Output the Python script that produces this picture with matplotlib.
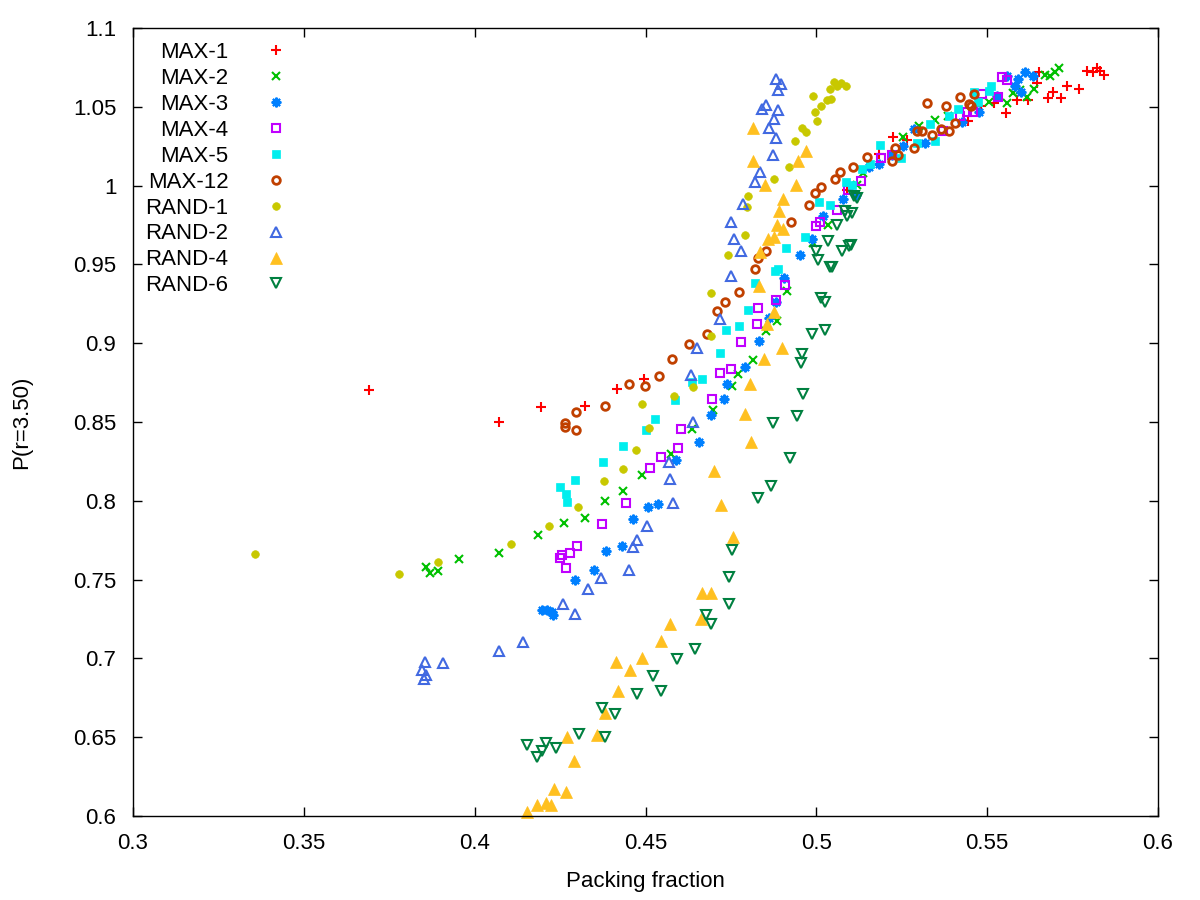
import matplotlib
matplotlib.use('Agg')
import matplotlib.pyplot as plt

plt.rcParams['font.family'] = ['Liberation Sans', 'DejaVu Sans']

# MAX-1
max1_x = [0.3691, 0.4071, 0.4194, 0.4323, 0.4417, 0.4496, 0.5090, 0.5184, 0.5225, 0.5265,
          0.5444, 0.5482, 0.5520, 0.5555, 0.5587, 0.5620, 0.5646, 0.5652, 0.5678, 0.5693,
          0.5716, 0.5734, 0.5769, 0.5792, 0.5810, 0.5822, 0.5830, 0.5842]
max1_y = [0.8701, 0.8498, 0.8593, 0.8599, 0.8707, 0.8771, 0.9975, 1.0203, 1.0311, 1.0292,
          1.0413, 1.0508, 1.0527, 1.0463, 1.0540, 1.0540, 1.0654, 1.0723, 1.0558, 1.0597,
          1.0558, 1.0635, 1.0616, 1.0730, 1.0723, 1.0749, 1.0730, 1.0704]

# MAX-2
max2_x = [0.3858, 0.3869, 0.3893, 0.3954, 0.4071, 0.4185, 0.4262, 0.4323, 0.4382, 0.4434,
          0.4490, 0.4575, 0.4636, 0.4698, 0.4753, 0.4771, 0.4815, 0.4853, 0.4885, 0.4914,
          0.4990, 0.5034, 0.5119, 0.5137, 0.5254, 0.5301, 0.5347, 0.5385, 0.5505, 0.5558,
          0.5576, 0.5596, 0.5617, 0.5637, 0.5669, 0.5684, 0.5699, 0.5710]
max2_y = [0.7579, 0.7541, 0.7553, 0.7629, 0.7667, 0.7781, 0.7858, 0.7889, 0.7997, 0.8061,
          0.8162, 0.8295, 0.8454, 0.8574, 0.8726, 0.8802, 0.8891, 0.9075, 0.9138, 0.9329,
          0.9633, 0.9747, 1.0001, 1.0083, 1.0311, 1.0381, 1.0419, 1.0444, 1.0533, 1.0527,
          1.0590, 1.0609, 1.0565, 1.0616, 1.0704, 1.0698, 1.0723, 1.0749]

# MAX-3
max3_x = [0.4197, 0.4212, 0.4226, 0.4229, 0.4294, 0.4349, 0.4384, 0.4431, 0.4463, 0.4507,
          0.4537, 0.4589, 0.4657, 0.4692, 0.4730, 0.4739, 0.4791, 0.4832, 0.4862, 0.4882,
          0.4905, 0.4952, 0.4987, 0.5020, 0.5078, 0.5116, 0.5154, 0.5184, 0.5222, 0.5254,
          0.5286, 0.5318, 0.5426, 0.5476, 0.5529, 0.5558, 0.5582, 0.5590, 0.5599, 0.5611,
          0.5634]
max3_y = [0.7306, 0.7306, 0.7293, 0.7274, 0.7496, 0.7560, 0.7680, 0.7712, 0.7883, 0.7959,
          0.7978, 0.8257, 0.8371, 0.8542, 0.8644, 0.8739, 0.8847, 0.9012, 0.9157, 0.9259,
          0.9411, 0.9557, 0.9658, 0.9810, 0.9912, 0.9943, 1.0115, 1.0134, 1.0191, 1.0254,
          1.0362, 1.0273, 1.0406, 1.0470, 1.0571, 1.0698, 1.0635, 1.0679, 1.0597, 1.0723,
          1.0698]

# MAX-4
max4_x = [0.4250, 0.4256, 0.4267, 0.4279, 0.4300, 0.4373, 0.4443, 0.4513, 0.4545, 0.4595,
          0.4604, 0.4695, 0.4718, 0.4750, 0.4780, 0.4826, 0.4829, 0.4882, 0.4908, 0.4999,
          0.5011, 0.5061, 0.5093, 0.5131, 0.5189, 0.5222, 0.5371, 0.5421, 0.5441, 0.5459,
          0.5485, 0.5532, 0.5544, 0.5558]
max4_y = [0.7636, 0.7655, 0.7572, 0.7667, 0.7712, 0.7851, 0.7984, 0.8206, 0.8276, 0.8333,
          0.8454, 0.8644, 0.8809, 0.8834, 0.9005, 0.9119, 0.9221, 0.9271, 0.9367, 0.9741,
          0.9772, 0.9848, 0.9975, 1.0032, 1.0178, 1.0191, 1.0349, 1.0444, 1.0470, 1.0470,
          1.0584, 1.0565, 1.0692, 1.0673]

# MAX-5
max5_x = [0.4250, 0.4267, 0.4270, 0.4294, 0.4376, 0.4434, 0.4502, 0.4528, 0.4586, 0.4636,
          0.4665, 0.4718, 0.4736, 0.4774, 0.4800, 0.4821, 0.4879, 0.4888, 0.4911, 0.4967,
          0.5008, 0.5040, 0.5087, 0.5104, 0.5134, 0.5157, 0.5186, 0.5248, 0.5295, 0.5333,
          0.5347, 0.5388, 0.5415, 0.5462, 0.5473, 0.5505, 0.5511]
max5_y = [0.8086, 0.8041, 0.7991, 0.8130, 0.8244, 0.8346, 0.8447, 0.8517, 0.8637, 0.8752,
          0.8771, 0.8935, 0.9081, 0.9107, 0.9208, 0.9379, 0.9455, 0.9468, 0.9607, 0.9671,
          0.9893, 0.9880, 1.0020, 1.0001, 1.0108, 1.0140, 1.0260, 1.0178, 1.0273, 1.0394,
          1.0280, 1.0444, 1.0489, 1.0597, 1.0533, 1.0603, 1.0635]

# MAX-12
max12_x = [0.4264, 0.4264, 0.4297, 0.4297, 0.4382, 0.4452, 0.4499, 0.4540, 0.4578, 0.4627,
           0.4680, 0.4709, 0.4733, 0.4774, 0.4821, 0.4829, 0.4853, 0.4926, 0.4979, 0.4996,
           0.5014, 0.5055, 0.5069, 0.5107, 0.5148, 0.5222, 0.5230, 0.5239, 0.5286, 0.5295,
           0.5309, 0.5324, 0.5339, 0.5365, 0.5380, 0.5388, 0.5406, 0.5421, 0.5447, 0.5453,
           0.5462]
max12_y = [0.8492, 0.8466, 0.8561, 0.8447, 0.8599, 0.8739, 0.8726, 0.8790, 0.8897, 0.8992,
           0.9056, 0.9202, 0.9259, 0.9322, 0.9468, 0.9538, 0.9588, 0.9766, 0.9880, 0.9956,
           0.9988, 1.0045, 1.0089, 1.0115, 1.0184, 1.0153, 1.0241, 1.0197, 1.0241, 1.0349,
           1.0349, 1.0527, 1.0324, 1.0362, 1.0508, 1.0349, 1.0400, 1.0565, 1.0520, 1.0508,
           1.0584]

# RAND-1
rand1_x = [0.3357, 0.3779, 0.3893, 0.4106, 0.4218, 0.4303, 0.4379, 0.4434, 0.4472, 0.4490,
           0.4510, 0.4583, 0.4639, 0.4692, 0.4692, 0.4742, 0.4791, 0.4797, 0.4800, 0.4876,
           0.4920, 0.4938, 0.4958, 0.4970, 0.4990, 0.4996, 0.5002, 0.5014, 0.5031, 0.5040,
           0.5043, 0.5052, 0.5061, 0.5072, 0.5087]
rand1_y = [0.7661, 0.7534, 0.7610, 0.7724, 0.7839, 0.7959, 0.8124, 0.8200, 0.8320, 0.8612,
           0.8460, 0.8663, 0.8720, 0.9043, 0.9316, 0.9557, 0.9684, 0.9867, 0.9931, 1.0039,
           1.0121, 1.0280, 1.0368, 1.0343, 1.0571, 1.0470, 1.0413, 1.0508, 1.0540, 1.0616,
           1.0552, 1.0660, 1.0635, 1.0654, 1.0635]

# RAND-2
rand2_x = [0.3846, 0.3852, 0.3855, 0.3858, 0.3907, 0.4071, 0.4142, 0.4259, 0.4294, 0.4332,
           0.4370, 0.4452, 0.4463, 0.4475, 0.4504, 0.4581, 0.4569, 0.4572, 0.4639, 0.4633,
           0.4651, 0.4718, 0.4750, 0.4759, 0.4750, 0.4780, 0.4785, 0.4821, 0.4835, 0.4873,
           0.4882, 0.4862, 0.4876, 0.4888, 0.4841, 0.4853, 0.4888, 0.4882, 0.4897]
rand2_y = [0.6926, 0.6869, 0.6976, 0.6894, 0.6970, 0.7046, 0.7103, 0.7344, 0.7281, 0.7439,
           0.7509, 0.7560, 0.7705, 0.7750, 0.7839, 0.7984, 0.8244, 0.8137, 0.8498, 0.8796,
           0.8967, 0.9151, 0.9424, 0.9658, 0.9766, 0.9582, 0.9886, 1.0026, 1.0089, 1.0197,
           1.0299, 1.0368, 1.0425, 1.0482, 1.0489, 1.0514, 1.0609, 1.0679, 1.0647]

# RAND-4
rand4_x = [0.4153, 0.4182, 0.4209, 0.4223, 0.4232, 0.4267, 0.4291, 0.4270, 0.4358, 0.4382,
           0.4420, 0.4455, 0.4414, 0.4490, 0.4545, 0.4572, 0.4663, 0.4665, 0.4692, 0.4756,
           0.4721, 0.4701, 0.4809, 0.4791, 0.4806, 0.4847, 0.4900, 0.4876, 0.4856, 0.4832,
           0.4835, 0.4859, 0.4876, 0.4885, 0.4902, 0.4891, 0.4902, 0.4850, 0.4941, 0.4815,
           0.4946, 0.4970, 0.4815]
rand4_y = [0.6025, 0.6070, 0.6082, 0.6070, 0.6171, 0.6152, 0.6349, 0.6501, 0.6514, 0.6653,
           0.6793, 0.6926, 0.6976, 0.7002, 0.7110, 0.7217, 0.7249, 0.7414, 0.7414, 0.7769,
           0.7972, 0.8187, 0.8371, 0.8549, 0.8739, 0.8897, 0.8967, 0.9195, 0.9119, 0.9360,
           0.9576, 0.9658, 0.9671, 0.9753, 0.9722, 0.9836, 0.9912, 1.0001, 1.0001, 1.0159,
           1.0153, 1.0222, 1.0368]

# RAND-6
rand6_x = [0.4153, 0.4182, 0.4197, 0.4209, 0.4238, 0.4305, 0.4382, 0.4373, 0.4411, 0.4475,
           0.4522, 0.4545, 0.4592, 0.4645, 0.4677, 0.4692, 0.4744, 0.4744, 0.4753, 0.4829,
           0.4867, 0.4923, 0.4873, 0.4943, 0.4961, 0.4955, 0.4958, 0.4987, 0.5025, 0.5014,
           0.5025, 0.4999, 0.5005, 0.5040, 0.5046, 0.5075, 0.5034, 0.5096, 0.5102, 0.5061,
           0.5084, 0.5090, 0.5104, 0.5110, 0.5119]
rand6_y = [0.6450, 0.6374, 0.6412, 0.6463, 0.6431, 0.6520, 0.6501, 0.6685, 0.6647, 0.6773,
           0.6888, 0.6793, 0.6995, 0.7059, 0.7274, 0.7217, 0.7344, 0.7515, 0.7686, 0.8016,
           0.8092, 0.8270, 0.8492, 0.8536, 0.8675, 0.8872, 0.8929, 0.9056, 0.9081, 0.9284,
           0.9259, 0.9582, 0.9531, 0.9481, 0.9481, 0.9582, 0.9646, 0.9614, 0.9620, 0.9747,
           0.9842, 0.9804, 0.9823, 0.9937, 0.9924]

x_ticks = [0.3, 0.35, 0.4, 0.45, 0.5, 0.55, 0.6]
x_tick_labels = ['0.3', '0.35', '0.4', '0.45', '0.5', '0.55', '0.6']
y_ticks = [0.6, 0.65, 0.7, 0.75, 0.8, 0.85, 0.9, 0.95, 1.0, 1.05, 1.1]
y_tick_labels = ['0.6', '0.65', '0.7', '0.75', '0.8', '0.85', '0.9', '0.95', '1', '1.05', '1.1']

# (label, x, y, marker, size, colour, filled)
series = [
    ('MAX-1', max1_x, max1_y, '+', 7, '#ff0000', True),
    ('MAX-2', max2_x, max2_y, 'x', 6, '#00c000', True),
    ('MAX-3', max3_x, max3_y, (8, 2, 0), 7, '#0080ff', True),
    ('MAX-4', max4_x, max4_y, 's', 5.5, '#c000ff', False),
    ('MAX-5', max5_x, max5_y, 's', 6, '#00eeee', True),
    ('MAX-12', max12_x, max12_y, 'o', 5.5, '#c04000', False),
    ('RAND-1', rand1_x, rand1_y, 'o', 5.5, '#c8c800', True),
    ('RAND-2', rand2_x, rand2_y, '^', 7, '#4169e1', False),
    ('RAND-4', rand4_x, rand4_y, '^', 8, '#ffc020', True),
    ('RAND-6', rand6_x, rand6_y, 'v', 7, '#008040', False),
]

fig = plt.figure(figsize=(12, 9), dpi=100)
ax = fig.add_axes([133 / 1200, 84 / 900, 1025 / 1200, 788 / 900])

for label, xs, ys, marker, size, colour, filled in series:
    if marker in ('s', 'o', '^', 'v') and filled:
        ax.plot(xs, ys, linestyle='none', marker=marker, ms=size, mfc=colour,
                mec=colour, mew=0.5, label=label, clip_on=False)
    elif marker == 'o':
        ax.plot(xs, ys, linestyle='none', marker=marker, ms=size, mfc='none',
                mec=colour, mew=2.0, label=label, clip_on=False)
    elif marker in ('s', '^', 'v'):
        ax.plot(xs, ys, linestyle='none', marker=marker, ms=size, mfc='none',
                mec=colour, mew=1.5, label=label, clip_on=False)
    else:
        ax.plot(xs, ys, linestyle='none', marker=marker, ms=size, color=colour,
                mew=1.5, label=label, clip_on=False)

ax.set_xlim(0.3, 0.6)
ax.set_ylim(0.6, 1.1)
ax.set_xticks(x_ticks)
ax.set_xticklabels(x_tick_labels)
ax.set_yticks(y_ticks)
ax.set_yticklabels(y_tick_labels)
ax.tick_params(direction='in', length=6.5, width=1, top=True, right=True,
               labelsize=16, pad=12)
for sp in ax.spines.values():
    sp.set_linewidth(1)

ax.set_xlabel('Packing fraction', fontsize=16)
ax.set_ylabel('P(r=3.50)', fontsize=16)
ax.xaxis.set_label_coords(0.5, -0.070)
ax.yaxis.set_label_coords(-0.098, 0.5)

leg = ax.legend(loc='upper left', bbox_to_anchor=(0.001, 0.996), frameon=False,
                markerfirst=False, numpoints=1, fontsize=16, handlelength=1.0,
                handletextpad=1.65, labelspacing=0.22, borderaxespad=0.3,
                borderpad=0.2)

fig.savefig('out.png', dpi=100)
